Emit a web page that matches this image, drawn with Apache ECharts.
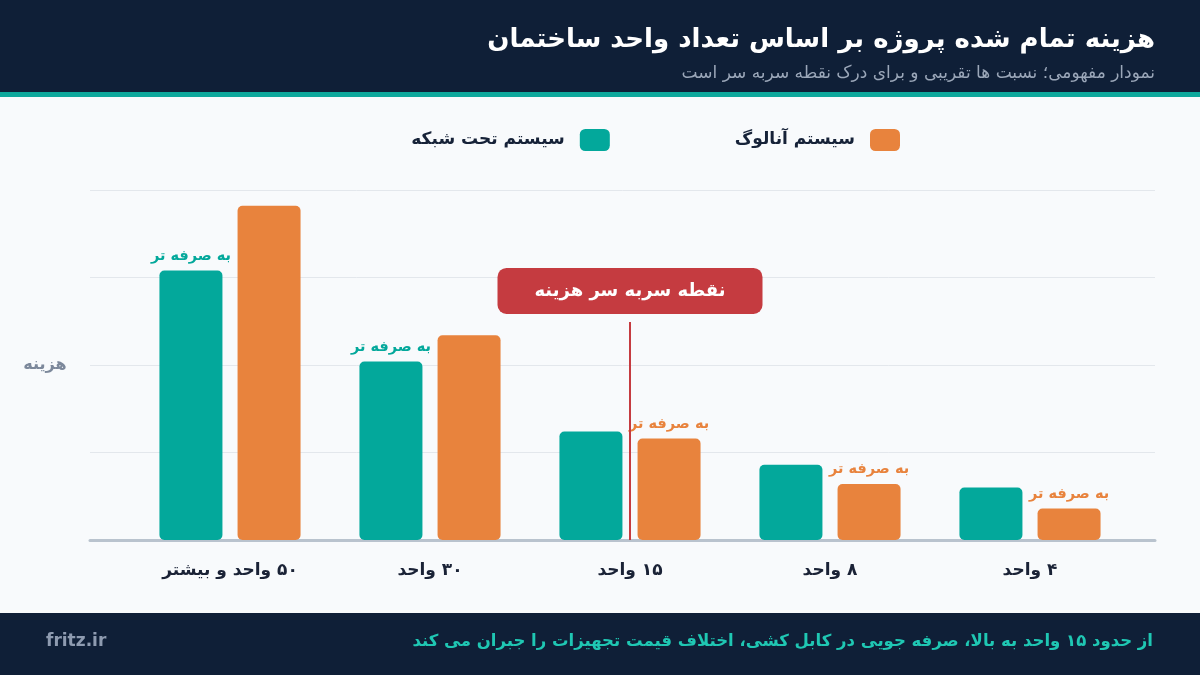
<!DOCTYPE html>
<html dir="rtl"><head><meta charset="utf-8">
<script src="https://cdn.jsdelivr.net/npm/echarts@6/dist/echarts.min.js"></script>
<style>html,body{margin:0;padding:0;background:#f8fafc;}#c{width:1200px;height:675px;}</style>
</head><body><div id="c" dir="rtl"></div>
<script>
const categories = ['۵۰ واحد و بیشتر', '۳۰ واحد', '۱۵ واحد', '۸ واحد', '۴ واحد'];
const networkCost = [77, 51, 31, 21.5, 15];
const analogCost = [95.5, 58.5, 29, 16, 9];
const cheaperSide = ['network', 'network', 'analog', 'analog', 'analog'];
const breakEvenCategory = '۱۵ واحد';
const breakEvenTop = 62.3;
const yTicks = [0, 25, 50, 75, 100];

const FONT = '"DejaVu Sans", "Noto Sans", sans-serif';
const TEAL = '#03a89b', ORANGE = '#e8833d', RED = '#c53b40', NAVY = '#0f1f37';
const cheaperText = 'به صرفه تر';

function buildData(vals, side, color) {
  return vals.map((v, i) => ({
    value: v,
    label: { show: cheaperSide[i] === side, formatter: cheaperText, color: color }
  }));
}

const chart = echarts.init(document.getElementById('c'));
chart.setOption({
  backgroundColor: '#f8fafc',
  animation: false,
  textStyle: { fontFamily: FONT },
  graphic: [
    { type: 'rect', shape: { x: 0, y: 0, width: 1200, height: 92 }, style: { fill: NAVY }, z: -1 },
    { type: 'rect', shape: { x: 0, y: 92, width: 1200, height: 5 }, style: { fill: '#0ea89c' }, z: -1 },
    { type: 'rect', shape: { x: 0, y: 613, width: 1200, height: 62 }, style: { fill: NAVY }, z: -1 },
    { type: 'text', x: 1155, y: 40, style: { text: 'هزینه تمام شده پروژه بر اساس تعداد واحد ساختمان', fill: '#ffffff', font: 'bold 26px ' + FONT, align: 'right', verticalAlign: 'middle' } },
    { type: 'text', x: 1155, y: 74, style: { text: 'نمودار مفهومی؛ نسبت ها تقریبی و برای درک نقطه سربه سر است', fill: '#9ba7b9', font: '17px ' + FONT, align: 'right', verticalAlign: 'middle' } },
    { type: 'text', x: 1153, y: 642, style: { text: 'از حدود ۱۵ واحد به بالا، صرفه جویی در کابل کشی، اختلاف قیمت تجهیزات را جبران می کند', fill: '#1fc7b3', font: 'bold 16.5px ' + FONT, align: 'right', verticalAlign: 'middle' } },
    { type: 'text', x: 46, y: 642, style: { text: 'fritz.ir', fill: '#8e9bb0', font: 'bold 17px ' + FONT, align: 'left', verticalAlign: 'middle' } },
    { type: 'text', x: 45, y: 365, style: { text: 'هزینه', fill: '#7c889b', font: 'bold 16px ' + FONT, align: 'center', verticalAlign: 'middle' } }
  ],
  legend: {
    top: 124, right: 295,
    itemWidth: 30, itemHeight: 22, itemGap: 125, align: 'right',
    icon: 'roundRect',
    data: ['سیستم تحت شبکه', 'سیستم آنالوگ'],
    textStyle: { fontSize: 17, fontWeight: 'bold', color: '#162238', fontFamily: FONT, padding: [0, 10, 0, 0] }
  },
  grid: [
    { left: 90, right: 45, top: 190, bottom: 135 },
    { left: 130, right: 70, top: 190, bottom: 135 }
  ],
  xAxis: [
    { type: 'value', gridIndex: 0, min: 0, max: 1, axisLine: { show: true, lineStyle: { color: '#b9c3ce', width: 3 } }, axisTick: { show: false }, axisLabel: { show: false }, splitLine: { show: false }, z: 0 },
    { type: 'category', gridIndex: 1, data: categories, axisLine: { show: false }, axisTick: { show: false },
      axisLabel: { margin: 22, fontSize: 17, fontWeight: 'bold', color: '#1a2236', fontFamily: FONT } }
  ],
  yAxis: [
    { type: 'value', gridIndex: 0, min: yTicks[0], max: yTicks[yTicks.length - 1], interval: 25, axisLine: { show: false }, axisTick: { show: false }, axisLabel: { show: false }, splitLine: { lineStyle: { color: '#e3e7ec', width: 1 } } },
    { type: 'value', gridIndex: 1, min: yTicks[0], max: yTicks[yTicks.length - 1], interval: 25, show: false, splitLine: { show: false } }
  ],
  series: [
    {
      name: 'سیستم تحت شبکه', type: 'bar', xAxisIndex: 1, yAxisIndex: 1,
      barWidth: 63, barGap: '24%', z: 3,
      itemStyle: { color: TEAL, borderRadius: 5 },
      label: { position: 'top', distance: 7, fontSize: 14.5, fontWeight: 'bold', fontFamily: FONT },
      data: buildData(networkCost, 'network', TEAL)
    },
    {
      name: 'سیستم آنالوگ', type: 'bar', xAxisIndex: 1, yAxisIndex: 1,
      barWidth: 63, barGap: '24%', z: 3,
      itemStyle: { color: ORANGE, borderRadius: 5 },
      label: { position: 'top', distance: 7, fontSize: 14.5, fontWeight: 'bold', fontFamily: FONT },
      data: buildData(analogCost, 'analog', ORANGE)
    },
    {
      name: 'breakEven', type: 'line', xAxisIndex: 1, yAxisIndex: 1, data: [], z: 4,
      markLine: {
        symbol: 'none', silent: true,
        lineStyle: { color: RED, width: 2, type: 'solid' },
        label: {
          show: true, position: 'end', formatter: 'نقطه سربه سر هزینه', distance: 8,
          color: '#ffffff', fontSize: 18, fontWeight: 'bold', fontFamily: FONT,
          backgroundColor: RED, borderRadius: 9, width: 265, height: 46, lineHeight: 46, align: 'center', padding: 0
        },
        data: [[{ coord: [breakEvenCategory, 0] }, { coord: [breakEvenCategory, breakEvenTop] }]]
      }
    }
  ]
});
</script></body></html>
